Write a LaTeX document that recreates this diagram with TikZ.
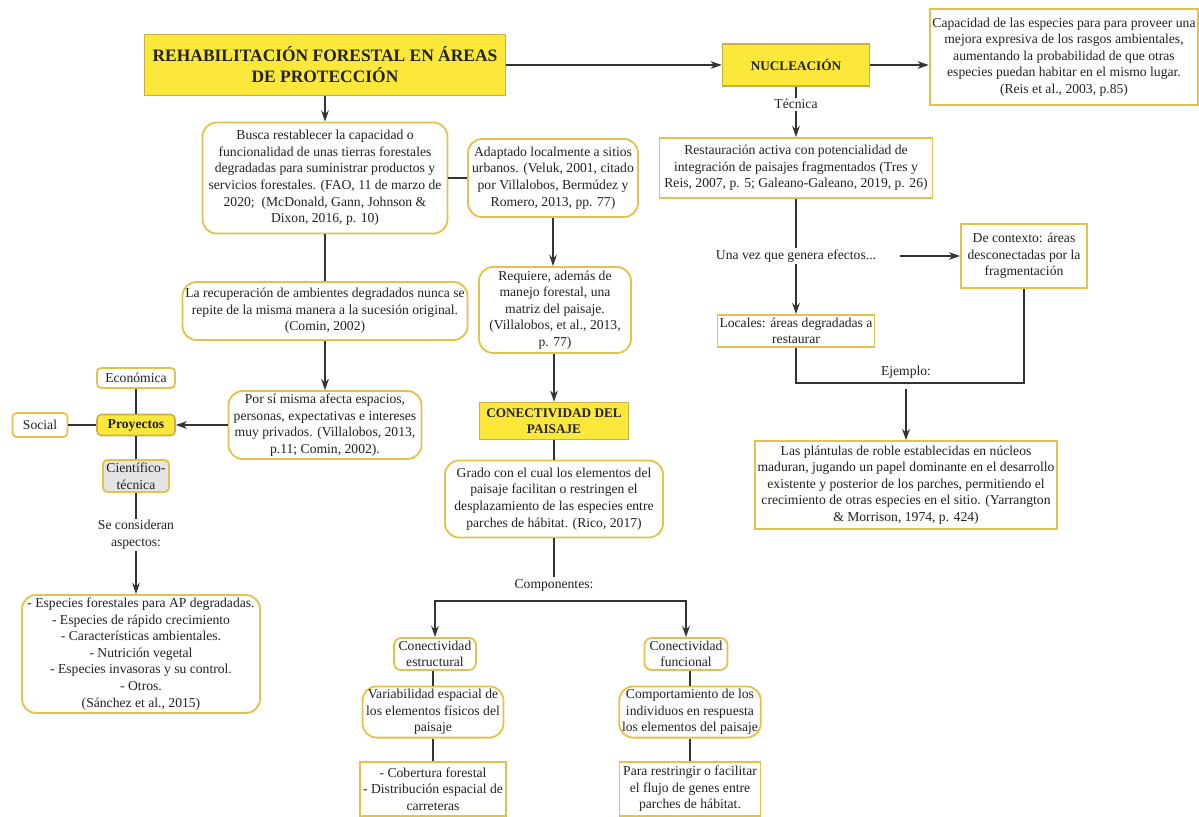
\documentclass[tikz,border=0pt]{standalone}
\usepackage{fontspec}
\setmainfont{Liberation Serif}
\usetikzlibrary{arrows.meta,positioning,calc}
\definecolor{cyel}{HTML}{FCE83A}
\definecolor{cgold}{HTML}{E3C24A}
\definecolor{cink}{HTML}{222222}
\definecolor{cline}{HTML}{333333}
\definecolor{cgrey}{HTML}{E4E4E4}

\begin{document}
\begin{tikzpicture}[x=0.25mm,y=-0.25mm,
  every node/.style={font=\fontsize{9.7}{11.8}\selectfont,text=cink,align=center,inner sep=2pt},
  sz/.style 2 args={minimum width=#1*0.25mm,minimum height=#2*0.25mm},
  sbox/.style={draw=cgold,line width=1.3pt,fill=white},
  rbox/.style={sbox,rounded corners=10pt},
  rsmall/.style={sbox,rounded corners=5pt},
  ybox/.style={draw=cgold!90!black,line width=1.1pt,fill=cyel,font=\fontsize{9.4}{11.5}\selectfont\bfseries},
  lbl/.style={fill=white,inner sep=1pt},
  link/.style={draw=cline,line width=1pt},
  arr/.style={link,-{Stealth[length=8pt,width=5.5pt]}}]
  \useasboundingbox (0,0) rectangle (1199,816);

  % top row
  \node[ybox,sz={361}{61},font=\fontsize{12.4}{15}\selectfont\bfseries] (title) at (325,65)
    {REHABILITACIÓN FORESTAL EN ÁREAS\\DE PROTECCIÓN};
  \node[ybox,sz={147}{42}] (nuc) at (796,65) {NUCLEACIÓN};
  \node[sbox,sz={262}{96}] (cap) at (1064,57)
    {Capacidad de las especies para para proveer una\\mejora expresiva de los rasgos ambientales,\\aumentando la probabilidad de que otras\\especies puedan habitar en el mismo lugar.\\(Reis et al., 2003, p.85)};
  \draw[arr] (title.east) -- (nuc.west);
  \draw[arr] (nuc.east) -- (nuc.east -| cap.west);

  % nucleacion branch
  \node[lbl] (tec) at (796,104) {Técnica};
  \node[sbox,sz={273}{60}] (rest) at (796,168)
    {Restauración activa con potencialidad de\\integración de paisajes fragmentados (Tres y\\Reis, 2007, p. 5; Galeano-Galeano, 2019, p. 26)};
  \node[lbl,minimum width=208*0.25mm] (efx) at (796,256) {Una vez que genera efectos...};
  \node[sbox,sz={126}{64}] (ctx) at (1024,256) {De contexto: áreas\\desconectadas por la\\fragmentación};
  \node[sbox,sz={157}{32},inner sep=1pt] (loc) at (796,331) {Locales: áreas degradadas a\\restaurar};
  \coordinate (ejl) at (796,383);
  \node[lbl] (ejlab) at (906,372) {Ejemplo:};
  \coordinate (ejtop) at (906,389);
  \node[sbox,sz={302}{88}] (ej) at (906,485)
    {Las plántulas de roble establecidas en núcleos\\maduran, jugando un papel dominante en el desarrollo\\existente y posterior de los parches, permitiendo el\\crecimiento de otras especies en el sitio. (Yarrangton\\\& Morrison, 1974, p. 424)};
  \draw[link] (nuc.south) -- (tec.north);
  \draw[arr] (tec.south) -- (rest.north);
  \draw[link] (rest.south) -- (efx.north);
  \draw[arr] (efx.south) -- (loc.north);
  \draw[arr] (efx.east) -- (ctx.west);
  \draw[link] (loc.south) |- (ctx.south |- ejl) -- (ctx.south);
  \draw[arr] (ejtop) -- (ej.north);

  % centre column
  \node[rbox,sz={245}{111}] (busca) at (325,178)
    {Busca restablecer la capacidad o\\funcionalidad de unas tierras forestales\\degradadas para suministrar productos y\\servicios forestales. (FAO, 11 de marzo de\\2020;~ (McDonald, Gann, Johnson \&\\Dixon, 2016, p. 10)};
  \node[rbox,sz={170}{78}] (adap) at (553,178)
    {Adaptado localmente a sitios\\urbanos. (Veluk, 2001, citado\\por Villalobos, Bermúdez y\\Romero, 2013, pp. 77)};
  \node[rbox,sz={152}{86}] (req) at (555,310)
    {Requiere, además de\\manejo forestal, una\\matriz del paisaje.\\(Villalobos, et al., 2013,\\p. 77)};
  \node[ybox,sz={149}{37}] (conect) at (554,421) {CONECTIVIDAD DEL\\PAISAJE};
  \node[rbox,sz={218}{77}] (grado) at (554,499)
    {Grado con el cual los elementos del\\paisaje facilitan o restringen el\\desplazamiento de las especies entre\\parches de hábitat. (Rico, 2017)};
  \node[lbl] (comp) at (554,585) {Componentes:};
  \coordinate (split) at (554,601);
  \draw[arr] (title.south) -- (busca.north);
  \draw[link] (busca.east) -- (busca.east -| adap.west);
  \draw[arr] (adap.south) -- (adap.south |- req.north);
  \draw[arr] (req.south -| conect.north) -- (conect.north);
  \draw[link] (conect.south) -- (grado.north);
  \draw[link] (grado.south) -- (comp.north);

  % components
  \node[rsmall,sz={82}{32}] (estr) at (435,654) {Conectividad\\estructural};
  \node[rsmall,sz={83}{32}] (func) at (686,654) {Conectividad\\funcional};
  \node[rbox,sz={141}{47}] (var) at (433,712) {Variabilidad espacial de\\los elementos físicos del\\paisaje};
  \node[rbox,sz={141}{47}] (comport) at (690,712) {Comportamiento de los\\individuos en respuesta\\los elementos del paisaje};
  \node[sbox,sz={142}{54}] (cob) at (433,789) {- Cobertura forestal\\- Distribución espacial de\\carreteras};
  \node[sbox,sz={141}{54}] (flujo) at (690,789) {Para restringir o facilitar\\el flujo de genes entre\\parches de hábitat.};
  \draw[arr] (split) -| (estr.north);
  \draw[arr] (split) -| (func.north);
  \draw[link] (estr.south -| var.north) -- (var.north);
  \draw[link] (var.south) -- (cob.north);
  \draw[link] (func.south -| comport.north) -- (comport.north);
  \draw[link] (comport.south) -- (flujo.north);

  % left column
  \node[rbox,sz={280}{58}] (recup) at (325,311)
    {La recuperación de ambientes degradados nunca se\\repite de la misma manera a la sucesión original.\\(Comin, 2002)};
  \node[rbox,sz={193}{66}] (pormisma) at (325,425)
    {Por sí misma afecta espacios,\\personas, expectativas e intereses\\muy privados. (Villalobos, 2013,\\p.11; Comin, 2002).};
  \node[ybox,rounded corners=3pt,sz={78}{21},font=\fontsize{9.7}{11.8}\selectfont\bfseries] (proy) at (136,425) {Proyectos};
  \node[rsmall,rounded corners=3pt,sz={78}{20}] (econ) at (136,378) {Económica};
  \node[rsmall,rounded corners=3pt,sz={55}{24}] (social) at (40,425) {Social};
  \node[rsmall,rounded corners=3pt,fill=cgrey,sz={66}{32}] (cient) at (136,476) {Científico-\\técnica};
  \node[lbl] (secons) at (136,535) {Se consideran\\aspectos:};
  \node[rbox,sz={238}{118}] (especies) at (141,654)
    {- Especies forestales para AP degradadas.\\- Especies de rápido crecimiento\\- Características ambientales.\\- Nutrición vegetal\\- Especies invasoras y su control.\\- Otros.\\(Sánchez et al., 2015)};
  \draw[link] (busca.south) -- (recup.north);
  \draw[arr] (recup.south) -- (pormisma.north);
  \draw[arr] (pormisma.west) -- (pormisma.west -| proy.east);
  \draw[link] (econ) -- (proy);
  \draw[link] (social) -- (proy);
  \draw[link] (proy) -- (cient);
  \draw[link] (cient.south) -- (secons.north);
  \draw[arr] (secons.south) -- (secons.south |- especies.north);
\end{tikzpicture}
\end{document}
